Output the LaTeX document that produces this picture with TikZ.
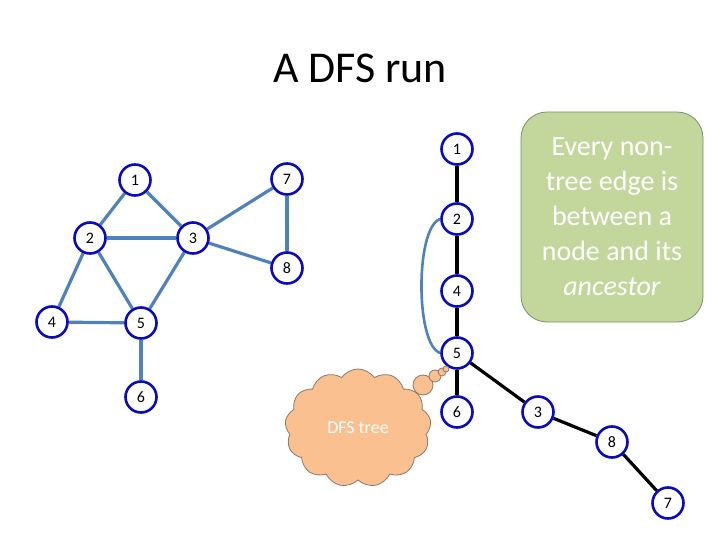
\documentclass[tikz,border=0pt]{standalone}
\usepackage{fontspec}
\setmainfont{Carlito}
\usepackage{tikz}
\usetikzlibrary{shapes.symbols, positioning, calc, backgrounds}
\definecolor{edgeblue}{RGB}{79,129,189}
\definecolor{ringblue}{RGB}{10,10,190}
\definecolor{notegreen}{RGB}{195,214,155}
\definecolor{noteline}{RGB}{120,145,100}
\definecolor{cloudfill}{RGB}{250,192,144}
\definecolor{cloudline}{RGB}{140,120,110}
\tikzset{
  vtx/.style={circle, draw=ringblue, line width=2.6pt, fill=white, minimum size=31pt,
              inner sep=0pt, font=\fontsize{16}{16}\selectfont},
  gedge/.style={edgeblue, line width=3.2pt},
  tedge/.style={black, line width=3.2pt},
  backedge/.style={edgeblue, line width=2.6pt},
  notebox/.style={rectangle, rounded corners=26pt, fill=notegreen, draw=noteline, line width=0.8pt,
                  minimum width=182pt, minimum height=210pt, align=center, text=white,
                  font=\fontsize{28}{35}\selectfont},
  thought/.style={cloud, cloud puffs=13, cloud puff arc=110, aspect=1.25, fill=cloudfill, draw=cloudline,
                  line width=0.8pt, minimum width=146pt, minimum height=118pt, text=white,
                  font=\fontsize{18}{18}\selectfont},
  bubble/.style={fill=cloudfill, draw=cloudline, line width=0.8pt}
}
\begin{document}
\begin{tikzpicture}[x=1pt, y=-1pt]
    \useasboundingbox (0,0) rectangle (720,540);

    % Title
    \node[font=\fontsize{44}{44}\selectfont] (title) at (360,68) {A DFS run};

    % The graph on the left
    \node[vtx] (g1) at (135,180) {1};
    \node[vtx] (g2) at (90,238) {2};
    \node[vtx] (g3) at (193,238) {3};
    \node[vtx] (g7) at (287,179) {7};
    \node[vtx] (g8) at (287,268) {8};
    \node[vtx] (g4) at (52,322) {4};
    \node[vtx] (g5) at (141,323) {5};
    \node[vtx] (g6) at (141,397) {6};

    % The DFS tree on the right
    \node[vtx] (t1) at (457,149) {1};
    \node[vtx] (t2) at (457,219) {2};
    \node[vtx] (t4) at (457,291) {4};
    \node[vtx] (t5) at (457,353) {5};
    \node[vtx] (t6) at (457,412) {6};
    \node[vtx] (t3) at (538,412) {3};
    \node[vtx] (t8) at (612,442) {8};
    \node[vtx] (t7) at (668,503) {7};

    \begin{pgfonlayer}{background}
    % Graph edges
    \draw[gedge] (g1) -- (g2);
    \draw[gedge] (g1) -- (g3);
    \draw[gedge] (g2) -- (g3);
    \draw[gedge] (g2) -- (g4);
    \draw[gedge] (g2) -- (g5);
    \draw[gedge] (g3) -- (g5);
    \draw[gedge] (g3) -- (g7);
    \draw[gedge] (g3) -- (g8);
    \draw[gedge] (g7) -- (g8);
    \draw[gedge] (g4) -- (g5);
    \draw[gedge] (g5) -- (g6);

    % Tree edges
    \draw[tedge] (t1) -- (t2);
    \draw[tedge] (t2) -- (t4);
    \draw[tedge] (t4) -- (t5);
    \draw[tedge] (t5) -- (t6);
    \draw[tedge] (t5) -- (t3);
    \draw[tedge] (t3) -- (t8);
    \draw[tedge] (t8) -- (t7);
    \end{pgfonlayer}

    % Non-tree edge from 5 back to 2
    \draw[backedge] (t2.west) .. controls +(-25,8) and +(-25,-8) .. (t5.west);

    % Note box
    \node[notebox] (note) at (612,217) {Every non-\\tree edge is\\between a\\node and its\\\textit{ancestor}};

    % Thought cloud pointing at the tree
    \node[thought] (cloud) at (358,428) {DFS tree};
    \draw[bubble] (423,385) circle (10pt);
    \draw[bubble] (435,376) circle (6pt);
    \draw[bubble] (442,372) circle (4pt);
    \draw[bubble] (446,369) circle (3pt);
\end{tikzpicture}
\end{document}
